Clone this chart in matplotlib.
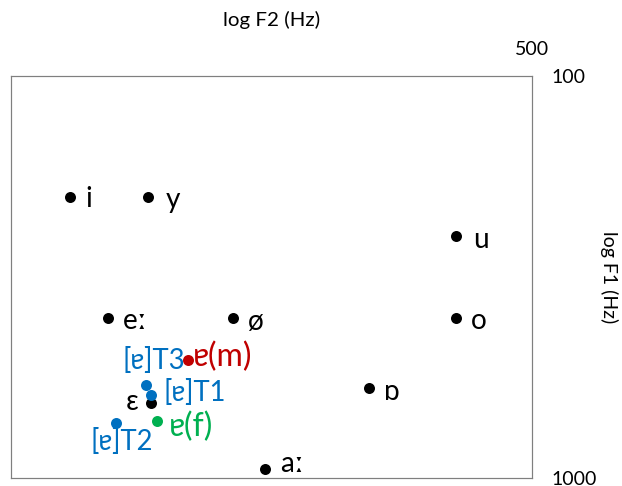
import matplotlib
matplotlib.use("Agg")
import matplotlib.pyplot as plt

plt.rcParams['font.family'] = ['Lato', 'Noto Sans', 'DejaVu Sans']

# Reference vowels (F2, F1 in Hz)
vowels = ['i', 'y', 'u', 'eː', 'ø', 'o', 'ɒ', 'aː', 'ɛ']
vowel_f2 = [2449, 1871, 649, 2149, 1398, 649, 876, 1251, 1852]
vowel_f1 = [200, 200, 250, 400, 400, 400, 598, 950, 653]

# Speaker/target schwa-like vowels
groups = ['ɐ(m)', 'ɐ(f)', '[ɐ]T1', '[ɐ]T2', '[ɐ]T3']
group_f2 = [1632, 1818, 1852, 2091, 1886]
group_f1 = [509, 721, 622, 730, 588]
group_colors = ['#C00000', '#00B050', '#0070C0', '#0070C0', '#0070C0']

x_ticks = [500]
y_ticks = [100, 1000]
x_lim = (3000, 500)
y_lim = (1000, 100)

# layout: label offsets in pixels (dx, dy-down), alignment
vowel_off = {'i': (15, 2), 'y': (17, 3), 'u': (17, 4), 'eː': (15, 3), 'ø': (15, 4),
             'o': (15, 3), 'ɒ': (15, 4), 'aː': (15, -5), 'ɛ': (-19, -1)}
vowel_ha = {'ɛ': 'center'}
group_off = {'ɐ(m)': (5, -3, 'left'), 'ɐ(f)': (12, 6, 'left'),
             '[ɐ]T1': (12, -2, 'left'), '[ɐ]T2': (6, 19, 'center'),
             '[ɐ]T3': (8, -25, 'center')}

W, H = 622, 486
fig = plt.figure(figsize=(W / 100, H / 100), dpi=100)
L, R, T, B = 11, 532, 76, 477.7
ax = fig.add_axes([L / W, (H - B) / H, (R - L) / W, (B - T) / H])
ax.set_xscale('log')
ax.set_yscale('log')
ax.set_xlim(*x_lim)
ax.set_ylim(*y_lim)

px = 0.72  # points per pixel at dpi 100

ax.scatter(vowel_f2, vowel_f1, s=(11 * px) ** 2, color='black', zorder=3, linewidths=0)
for v, x, y in zip(vowels, vowel_f2, vowel_f1):
    dx, dy = vowel_off[v]
    ax.annotate(v, (x, y), xytext=(dx * px, -dy * px), textcoords='offset points',
                ha=vowel_ha.get(v, 'left'), va='center', fontsize=28 * px,
                color='black')

for g, x, y, c in zip(groups, group_f2, group_f1, group_colors):
    ax.scatter([x], [y], s=(11 * px) ** 2, color=c, zorder=4, linewidths=0)
    dx, dy, ha = group_off[g]
    fs = (32 if g.startswith('ɐ') else 27.5) * px
    ax.annotate(g, (x, y), xytext=(dx * px, -dy * px), textcoords='offset points',
                ha=ha, va='center', fontsize=fs, color=c)

ax.xaxis.tick_top()
ax.set_xticks(x_ticks)
ax.set_xticklabels([str(t) for t in x_ticks])
ax.xaxis.set_minor_locator(matplotlib.ticker.NullLocator())
ax.yaxis.tick_right()
ax.set_yticks(y_ticks)
ax.set_yticklabels([str(t) for t in y_ticks])
ax.yaxis.set_minor_locator(matplotlib.ticker.NullLocator())
ax.tick_params(axis='x', length=0, pad=18 * px, labelsize=19.5 * px)
ax.tick_params(axis='y', length=0, pad=19 * px, labelsize=19.5 * px)
for lbl in ax.get_yticklabels():
    lbl.set_va('center_baseline')

ax.set_xlabel('log F2 (Hz)', fontsize=20.5 * px)
ax.xaxis.set_label_position('top')
ax.xaxis.set_label_coords(0.5, 1 + 56 / (B - T))
ax.xaxis.label.set_va('center')
ax.set_ylabel('log F1 (Hz)', fontsize=19.5 * px, rotation=-90)
ax.yaxis.set_label_position('right')
ax.yaxis.set_label_coords((609 - L) / (R - L), 0.5)
ax.yaxis.label.set_va('center')
ax.yaxis.label.set_ha('center')

for s in ax.spines.values():
    s.set_color('#7f7f7f')
    s.set_linewidth(1.2 * px)

fig.savefig('out.png', dpi=100)
